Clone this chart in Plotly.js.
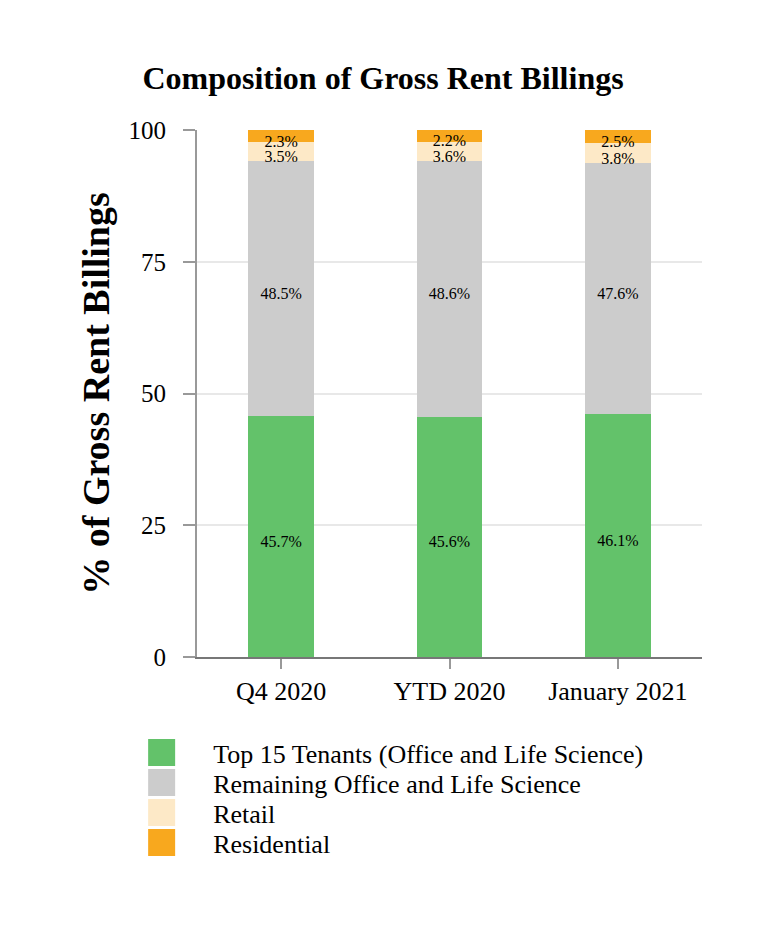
<!DOCTYPE html>
<html>
<head>
<meta charset="utf-8">
<script src="https://cdn.plot.ly/plotly-3.0.1.min.js"></script>
<style>body{margin:0;padding:0;background:#fff}</style>
</head>
<body>
<div id="chart" style="width:766px;height:932px"></div>
<script>
const categories = ["Q4 2020", "YTD 2020", "January 2021"];
const seriesNames = ["Top 15 Tenants (Office and Life Science)", "Remaining Office and Life Science", "Retail", "Residential"];
const top15 = [45.7, 45.6, 46.1];
const remaining = [48.5, 48.6, 47.6];
const retail = [3.5, 3.6, 3.8];
const residential = [2.3, 2.2, 2.5];
const colors = ["#63C26A", "#CCCCCC", "#FDE9C7", "#F8A81E"];
const yTicks = [0, 25, 50, 75, 100];

const series = [top15, remaining, retail, residential];
const font = "'Liberation Serif', 'Times New Roman', serif";

const traces = series.map((vals, i) => ({
  type: "bar",
  name: seriesNames[i],
  x: categories,
  y: vals,
  marker: {color: colors[i], line: {width: 0}},
  text: vals.map(v => v.toFixed(1) + "%"),
  textposition: "inside",
  insidetextanchor: "middle",
  constraintext: "none",
  textangle: 0,
  textfont: {family: font, size: 16, color: "#000"},
  hoverinfo: "none"
}));

const layout = {
  width: 766,
  height: 932,
  margin: {l: 197, r: 64, t: 130, b: 275},
  paper_bgcolor: "#fff",
  plot_bgcolor: "#fff",
  barmode: "stack",
  bargap: 0.61,
  font: {family: font, color: "#000"},
  title: {text: "<b>Composition of Gross Rent Billings</b>", font: {family: font, size: 32, color: "#000"}, x: 0.5, xanchor: "center", xref: "container", y: 0.916, yanchor: "middle", yref: "container"},
  xaxis: {
    type: "category",
    range: [-0.5, 2.5],
    automargin: false,
    tickangle: 0,
    showline: true, linecolor: "#777", linewidth: 2,
    ticks: "outside", ticklen: 10, tickcolor: "#999", tickwidth: 2,
    tickfont: {family: font, size: 26, color: "#000"},
    showgrid: false
  },
  yaxis: {
    range: [0, 100],
    automargin: false,
    tickvals: yTicks,
    ticktext: yTicks.map(String),
    showline: true, linecolor: "#999", linewidth: 2,
    ticks: "outside", ticklen: 12, tickcolor: "#999", tickwidth: 2,
    ticklabelstandoff: 12,
    tickfont: {family: font, size: 25, color: "#000"},
    gridcolor: "#E8E8E8", gridwidth: 2,
    zeroline: false,
    title: {text: "<b>% of Gross Rent Billings</b>", font: {family: font, size: 38, color: "#000"}, standoff: 7}
  },
  legend: {
    orientation: "v",
    traceorder: "normal",
    x: -0.172, xanchor: "left",
    y: -0.137, yanchor: "top",
    itemwidth: 93,
    font: {family: font, size: 26, color: "#000"},
    bgcolor: "rgba(0,0,0,0)"
  },
  showlegend: true
};

Plotly.newPlot("chart", traces, layout, {staticPlot: true, displayModeBar: false}).then(() => {
  document.querySelectorAll(".legend .legendpoints path").forEach(p => {
    const tr = p.getAttribute("transform") || "";
    p.setAttribute("transform", tr + " scale(2.25,2.25)");
  });
  const items = document.querySelectorAll(".legend .traces");
  let y0 = null;
  items.forEach((g, i) => {
    const m = /translate\(([-\d.]+),\s*([-\d.]+)\)/.exec(g.getAttribute("transform") || "");
    if (!m) return;
    if (y0 === null) y0 = parseFloat(m[2]);
    g.setAttribute("transform", "translate(" + m[1] + "," + (y0 + i * 30) + ")");
  });
  document.querySelectorAll(".bars .bartext").forEach(t => {
    const tr = t.getAttribute("transform") || "";
    t.setAttribute("transform", tr + " translate(0,5)");
  });
});
</script>
</body>
</html>
